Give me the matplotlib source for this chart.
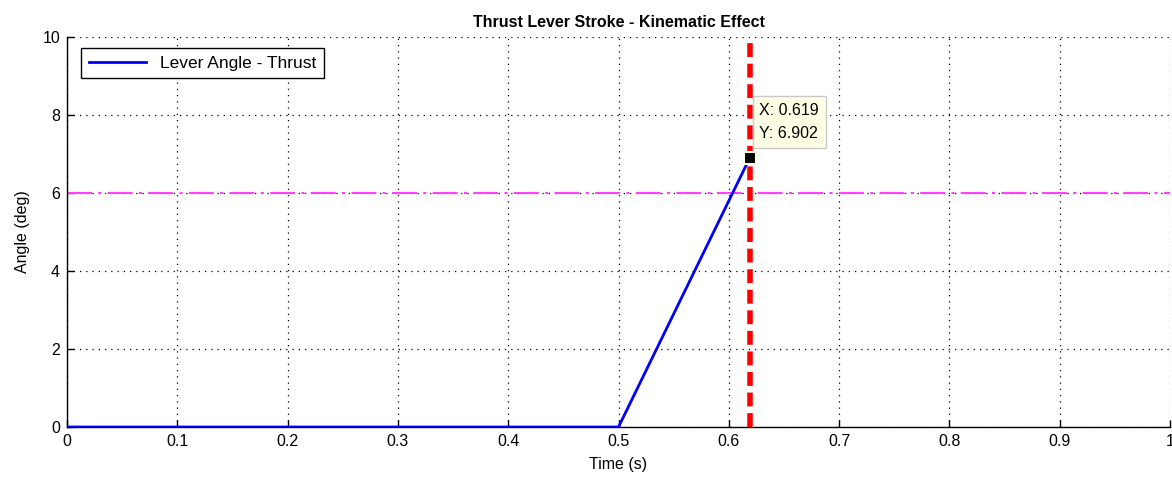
import matplotlib
matplotlib.use("Agg")
import matplotlib.pyplot as plt

# data
time_s = [0.0, 0.5, 0.619]
angle_deg = [0.0, 0.0, 6.902]
limit_angle = 6.0
cursor_x = 0.619
tip_x, tip_y = 0.619, 6.902
x_ticks = [0, 0.1, 0.2, 0.3, 0.4, 0.5, 0.6, 0.7, 0.8, 0.9, 1]
x_labels = ["0", "0.1", "0.2", "0.3", "0.4", "0.5", "0.6", "0.7", "0.8", "0.9", "1"]
y_ticks = [0, 2, 4, 6, 8, 10]

plt.rcParams['font.family'] = ['Liberation Sans', 'DejaVu Sans']

fig = plt.figure(figsize=(11.72, 4.82), dpi=100)
ax = fig.add_axes([0.0572, 0.1141, 0.9411, 0.8091])

ax.plot(time_s, angle_deg, color='#0000ff', lw=2, label='Lever Angle - Thrust', zorder=3)
ax.axhline(limit_angle, color='#ff40ff', lw=1.5, ls=(0, (12, 3, 1.5, 3)), zorder=2)
ax.axvline(cursor_x, color='#ff0000', lw=4, ls=(0, (2.5, 1.2)), zorder=4)

ax.plot([tip_x], [tip_y], marker='s', ms=9, mfc='black', mec='#ffffe0', mew=1.5, zorder=6, clip_on=False)
ax.annotate(f"X: {tip_x}\nY: {tip_y}", xy=(tip_x, tip_y), xytext=(7, 12),
            textcoords='offset points', fontsize=11.5, va='bottom', ha='left',
            linespacing=1.7, zorder=7,
            bbox=dict(boxstyle='square,pad=0.4', fc='#ffffe6', ec='#c8c8c8', lw=1))

ax.set_xlim(0, 1)
ax.set_ylim(0, 10)
ax.set_xticks(x_ticks)
ax.set_xticklabels(x_labels)
ax.set_yticks(y_ticks)
ax.tick_params(direction='in', length=5, labelsize=11.5, width=1, pad=5)
ax.grid(True, ls=(0, (1, 4)), color='black', lw=0.9)
for s in ['top', 'right']:
    ax.spines[s].set_visible(False)
for s in ['left', 'bottom']:
    ax.spines[s].set_linewidth(1)

ax.set_title('Thrust Lever Stroke - Kinematic Effect', fontsize=11.5, fontweight='bold', pad=7)
ax.set_xlabel('Time (s)', fontsize=11.5, labelpad=6)
ax.set_ylabel('Angle (deg)', fontsize=11.5, labelpad=9)

leg = ax.legend(loc='upper left', fontsize=12.5, fancybox=False, edgecolor='black',
                framealpha=1, handlelength=3.3, borderpad=0.45, bbox_to_anchor=(0.005, 0.995))
leg.get_frame().set_linewidth(1)

fig.savefig('out.png', dpi=100)
